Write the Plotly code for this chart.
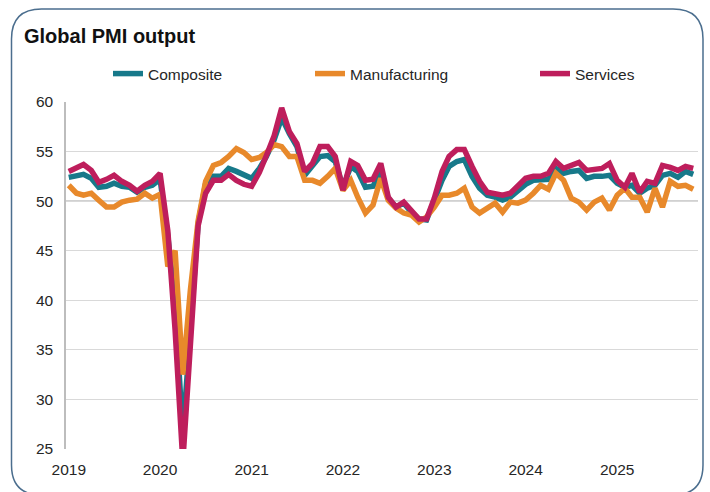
import plotly.graph_objects as go
import pandas as pd

# ---- data (monthly, Jan 2019 - Nov 2025) ----
months = pd.date_range("2019-01-01", "2025-11-01", freq="MS")
year_ticks = ["2019-01-01", "2020-01-01", "2021-01-01", "2022-01-01",
              "2023-01-01", "2024-01-01", "2025-01-01"]
year_labels = ["2019", "2020", "2021", "2022", "2023", "2024", "2025"]

composite = [
    52.4, 52.6, 52.7, 52.3, 51.4, 51.5, 51.8, 51.5, 51.4, 50.9, 51.4, 51.6,
    52.2, 46.5, 39.5, 26.5, 36.5, 47.7, 51.8, 52.5, 52.5, 53.3, 53.0, 52.6,
    52.3, 53.3, 54.5, 56.2, 58.4, 56.8, 55.5, 52.6, 53.5, 54.5, 54.6, 54.0,
    51.4, 53.5, 53.0, 51.4, 51.5, 53.0, 50.3, 49.4, 49.8, 48.9, 48.2, 48.1,
    50.1, 52.1, 53.5, 54.0, 54.2, 52.5, 51.3, 50.6, 50.4, 50.1, 50.4, 51.1,
    51.7, 52.1, 52.2, 52.2, 53.3, 52.8, 53.0, 53.1, 52.3, 52.5, 52.5, 52.6,
    51.8, 51.4, 51.6, 50.8, 51.3, 51.6, 52.6, 52.8, 52.4, 53.0, 52.7]

manufacturing = [
    51.6, 50.8, 50.6, 50.8, 50.1, 49.4, 49.4, 49.9, 50.1, 50.2, 50.8, 50.3,
    50.7, 43.4, 45.0, 32.5, 41.0, 48.0, 52.0, 53.6, 53.9, 54.5, 55.3, 54.9,
    54.2, 54.4, 54.9, 55.7, 55.5, 54.5, 54.5, 52.1, 52.1, 51.8, 52.5, 53.3,
    51.1, 52.1, 50.4, 48.8, 49.6, 52.3, 50.1, 49.3, 48.8, 48.6, 47.9, 48.4,
    49.4, 50.6, 50.6, 50.8, 51.3, 49.4, 48.8, 49.3, 49.8, 48.9, 49.9, 49.8,
    50.1, 50.8, 51.6, 51.2, 52.8, 52.1, 50.3, 49.9, 49.1, 49.9, 50.3, 49.1,
    50.6, 51.3, 50.4, 50.4, 48.9, 51.3, 49.4, 52.0, 51.5, 51.6, 51.2]

services = [
    53.0, 53.4, 53.7, 53.1, 51.9, 52.2, 52.6, 52.0, 51.6, 51.0, 51.6, 52.0,
    52.8, 47.0, 37.0, 23.7, 35.0, 47.5, 50.8, 52.1, 52.1, 52.7, 52.1, 51.7,
    51.5, 52.9, 54.6, 56.6, 59.4, 57.0, 55.8, 53.0, 53.8, 55.5, 55.5, 54.5,
    51.1, 54.0, 53.6, 52.1, 52.2, 53.8, 50.4, 49.4, 49.9, 49.1, 48.2, 48.2,
    50.3, 53.0, 54.5, 55.2, 55.2, 53.5, 52.0, 50.9, 50.8, 50.6, 50.8, 51.6,
    52.3, 52.5, 52.5, 52.8, 54.0, 53.3, 53.6, 53.9, 53.1, 53.2, 53.3, 53.8,
    52.1, 51.4, 52.8, 50.9, 52.0, 51.8, 53.6, 53.4, 53.1, 53.5, 53.3]

series_names = ["Composite", "Manufacturing", "Services"]
series_colors = ["#17798A", "#E8892B", "#BE1E5C"]

# ---- layout geometry (pixels) ----
W, H = 710, 492
L, R, T, B = 66, 12, 102, 43
PW, PH = W - L - R, H - T - B


def to_paper(x, y):
    return (x - L) / PW, 1 - (y - T) / PH


fig = go.Figure()
legend_ids = ["legend", "legend2", "legend3"]
for name, vals, col, lg in zip(series_names, [composite, manufacturing, services],
                               series_colors, legend_ids):
    fig.add_trace(go.Scatter(
        x=months, y=vals, name=name, mode="lines",
        line=dict(color=col, width=5.5), legend=lg,
    ))

# rounded panel border
bl, bt, br, bb, rr = 11.5, 9, 703, 495, 30
pts = [
    ("M", [(bl + rr, bt)]),
    ("L", [(br - rr, bt)]),
    ("Q", [(br, bt), (br, bt + rr)]),
    ("L", [(br, bb - rr)]),
    ("Q", [(br, bb), (br - rr, bb)]),
    ("L", [(bl + rr, bb)]),
    ("Q", [(bl, bb), (bl, bb - rr)]),
    ("L", [(bl, bt + rr)]),
    ("Q", [(bl, bt), (bl + rr, bt)]),
]
path = ""
for cmd, plist in pts:
    coords = " ".join("%.5f,%.5f" % to_paper(px, py) for px, py in plist)
    path += cmd + " " + coords + " "
path += "Z"

shapes = [
    dict(type="path", xref="paper", yref="paper", path=path,
         line=dict(color="#4B6E8E", width=1.5), fillcolor="rgba(0,0,0,0)",
         layer="below"),
    dict(type="line", xref="paper", yref="y", x0=0, x1=1, y0=50, y1=50,
         line=dict(color="#A3A3A3", width=1.5), layer="below"),
]

font_family = "Liberation Sans, Arial, sans-serif"

legend_common = dict(orientation="h", yanchor="middle", xanchor="left",
                     bgcolor="rgba(0,0,0,0)", borderwidth=0,
                     font=dict(family=font_family, size=15.5, color="#262626"))
lx = [to_paper(108, 0)[0], to_paper(310, 0)[0], to_paper(535, 0)[0]]
ly = to_paper(0, 74)[1]

fig.update_layout(
    width=W, height=H,
    margin=dict(l=L, r=R, t=T, b=B, pad=0),
    paper_bgcolor="white", plot_bgcolor="white",
    font=dict(family=font_family, size=15.5, color="#262626"),
    title=dict(text="<b>Global PMI output</b>", x=24 / W, xref="container",
               xanchor="left", y=1 - 36 / H, yref="container", yanchor="middle",
               font=dict(family=font_family, size=20, color="#111111")),
    legend=dict(x=lx[0], y=ly, **legend_common),
    legend2=dict(x=lx[1], y=ly, **legend_common),
    legend3=dict(x=lx[2], y=ly, **legend_common),
    shapes=shapes,
    xaxis=dict(
        range=["2018-12-21", "2025-11-20"],
        tickmode="array", tickvals=year_ticks, ticktext=year_labels,
        showgrid=False, zeroline=False, showline=False, ticks="",
        ticklabelstandoff=9,
        tickfont=dict(family=font_family, size=15.5, color="#262626"),
    ),
    yaxis=dict(
        range=[25, 60], dtick=5, tick0=25,
        showgrid=True, gridcolor="#D9D9D9", gridwidth=1,
        zeroline=False, showline=True, linecolor="#BDBDBD", linewidth=1.5,
        ticks="", ticklabelstandoff=8,
        tickfont=dict(family=font_family, size=15.5, color="#262626"),
    ),
    showlegend=True,
)

fig.write_html("out.html", config={"displayModeBar": False},
               post_script="document.body.style.margin='0';document.body.style.overflow='hidden';")
